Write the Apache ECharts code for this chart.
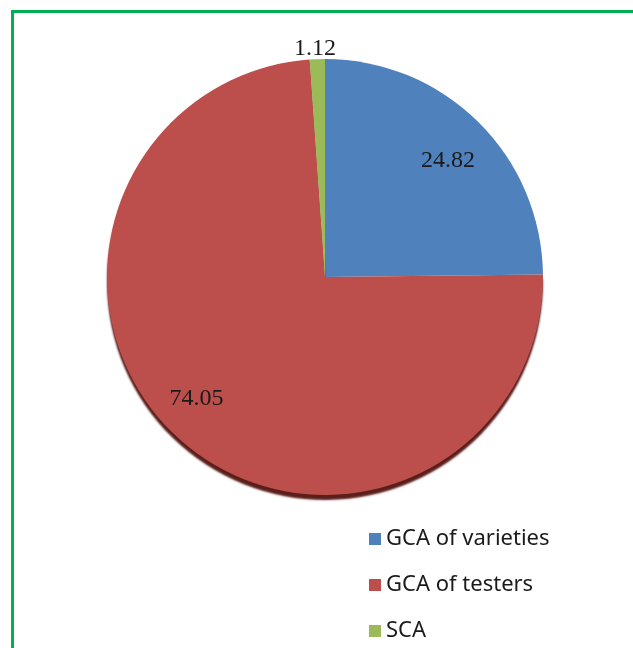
<!DOCTYPE html>
<html>
<head>
<meta charset="utf-8">
<script src="https://cdn.jsdelivr.net/npm/echarts@6/dist/echarts.min.js"></script>
<style>html,body{margin:0;padding:0;background:#fff;}#c{width:633px;height:648px;}</style>
</head>
<body>
<div id="c"></div>
<script>
const categories = ['GCA of varieties', 'GCA of testers', 'SCA'];
const values = [24.82, 74.05, 1.12];
const colors = ['#4F81BD', '#BC4F4C', '#9BBB59'];
const insideLabel = [true, true, false];

const chart = echarts.init(document.getElementById('c'));
const center = [325, 277];
const R = 218;

const mainData = categories.map((n, i) => ({
  name: n, value: values[i],
  itemStyle: i === 1 ? { color: colors[i], shadowColor: '#5a1e1b', shadowOffsetY: 5, shadowBlur: 2 } : { color: colors[i] },
  label: { show: !insideLabel[i] }
}));
const labelData = categories.map((n, i) => ({
  name: n, value: values[i],
  label: { show: insideLabel[i] }
}));

chart.setOption({
  animation: false,
  graphic: [{
    type: 'rect', shape: { x: 12.5, y: 11.5, width: 700, height: 700 },
    style: { fill: 'none', stroke: '#00B050', lineWidth: 3 }, z: 100
  }],
  legend: {
    orient: 'vertical', left: 369, top: 526, height: 200, padding: 0,
    itemWidth: 12, itemHeight: 12, itemGap: 20, icon: 'rect',
    data: categories,
    textStyle: { fontFamily: 'Noto Sans', fontSize: 22, color: '#1a1a1a', lineHeight: 26 }
  },
  series: [{
    type: 'pie', center: center, radius: [0, R], startAngle: 90, clockwise: true,
    avoidLabelOverlap: false, silent: true,
    data: mainData,
    label: {
      position: 'outside', formatter: '{c}', distanceToLabelLine: 5,
      fontFamily: 'Liberation Serif', fontSize: 24, color: '#1a1a1a'
    },
    labelLine: { show: false, length: 10, length2: 0 },
    labelLayout: function (p) { return p.dataIndex === 2 ? { dx: 24 } : {}; }
  }, {
    type: 'pie', center: center, radius: [0, 344], startAngle: 90, clockwise: true,
    avoidLabelOverlap: false, silent: true, legendHoverLink: false,
    itemStyle: { color: 'rgba(0,0,0,0)' },
    data: labelData,
    label: {
      position: 'inside', formatter: '{c}',
      fontFamily: 'Liberation Serif', fontSize: 24, color: '#1a1a1a'
    },
    labelLine: { show: false },
    labelLayout: function (p) { return p.dataIndex === 0 ? { dy: 8 } : { dx: -10, dy: -7 }; }
  }]
});
</script>
</body>
</html>
